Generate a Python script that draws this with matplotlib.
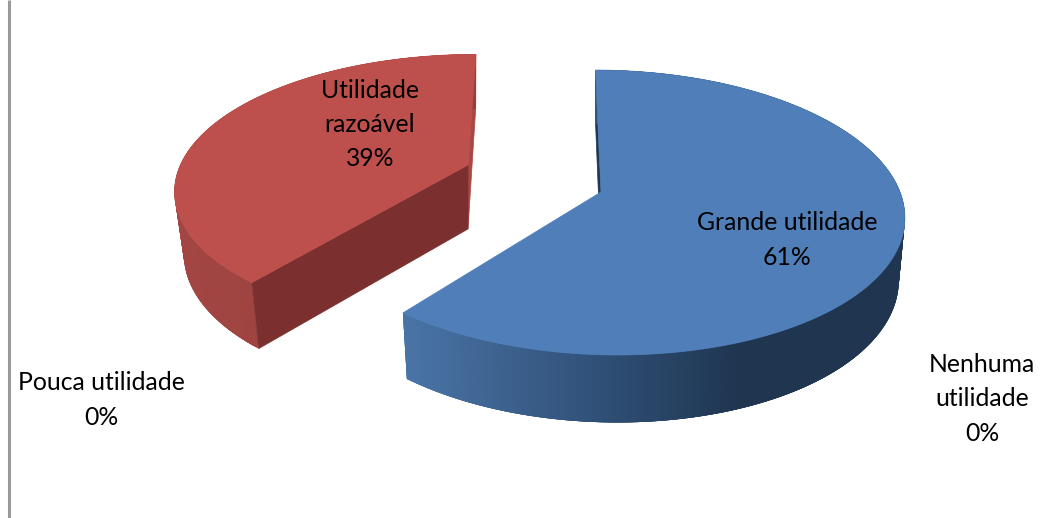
import numpy as np
import matplotlib
matplotlib.use("Agg")
import matplotlib.pyplot as plt
from matplotlib.collections import PolyCollection
from matplotlib.colors import LinearSegmentedColormap
from matplotlib.patches import Polygon

categories = ["Grande utilidade", "Utilidade\nrazoável", "Pouca utilidade", "Nenhuma\nutilidade"]
values = [61, 39, 0, 0]

label_xy = [(787, 240), (370, 124.5), (101, 400), (982, 399)]
# apex x, apex y, R, b, p, q, k, bottom scale
geometry = [
    (601, 192, 295, 139.5, 0.144, 4.0, 0.078, 0.98),
    (468, 165, 292, 131.0, 0.184, 4.4, -0.032, 0.968),
]
top_colors = ["#4f7eb9", "#bd504d"]
inner_colors = ["#1f3550", "#a84744"]
front_colors = ["#1f3550", "#7b302f"]
wall_maps = [
    LinearSegmentedColormap.from_list("b", [(0, "#4a74a6"), (0.4, "#2f4f76"), (0.68, "#1f3550"), (1, "#1f3550")]),
    LinearSegmentedColormap.from_list("r", [(0, "#a34643"), (1, "#973f3c")]),
]

plt.rcParams["font.family"] = ["Lato", "DejaVu Sans"]
fig = plt.figure(figsize=(10.51, 5.18), dpi=100)
ax = fig.add_axes([0, 0, 1, 1])
ax.set_xlim(0, 1051)
ax.set_ylim(518, 0)
ax.axis("off")

ax.plot([9.2, 9.2], [0, 518], color="#9a9a9a", lw=2.2, solid_capstyle="butt", zorder=1)


def rim(theta, g, bottom=False):
    ax0, ay0, R, b, p, q, k, s = g
    c = np.cos(theta)
    d = 1 + p * c
    dy = -b * c / d
    dx = R * np.sin(theta) / d + q + k * dy
    if bottom:
        return ax0 + s * dx, ay0 + dy + 61 - 6.5 * c
    return ax0 + dx, ay0 + dy


def apex(g, bottom=False):
    return (g[0], g[1] + 64) if bottom else (g[0], g[1])


edges = np.concatenate([[0], np.cumsum(values)]) / np.sum(values) * 2 * np.pi
z = 2
for i in [1, 0]:
    g = geometry[i]
    t = np.linspace(edges[i], edges[i + 1], 400)
    xt, yt = rim(t, g)
    xb, yb = rim(t, g, True)
    a_t, a_b = apex(g), apex(g, True)

    # inner wall at the radius that faces the viewer
    if i == 0:
        inner = [(xt[0], yt[0]), (xb[0], yb[0]), a_b, a_t]
    else:
        inner = [(xt[-1], yt[-1]), (xb[-1], yb[-1]), a_b, a_t]
    ax.add_patch(Polygon(inner, closed=True, fc=inner_colors[i], ec=inner_colors[i], lw=0.5, zorder=z))
    z += 1

    # outer wall: overlapping quads, so that no seams show between the shades
    n = len(t)
    stops = np.minimum(np.arange(n - 1) + 4, n - 1)
    quads = [[(xt[j], yt[j]), (xt[m], yt[m]), (xb[m], yb[m]), (xb[j], yb[j])]
             for j, m in zip(range(n - 1), stops)]
    mid = xt[:-1]
    shades = wall_maps[i]((mid - mid.min()) / (mid.max() - mid.min()))
    ax.add_collection(PolyCollection(quads, facecolors=shades, edgecolors="none", linewidths=0, zorder=z))
    z += 1

    # front wall along the other radius
    if i == 1:
        front = [a_t, (xt[0], yt[0]), (xb[0], yb[0]), a_b]
        ax.add_patch(Polygon(front, closed=True, fc=front_colors[i], ec=front_colors[i], lw=0.5, zorder=z))
        z += 1

    top = np.column_stack([np.r_[a_t[0], xt], np.r_[a_t[1], yt]])
    ax.add_patch(Polygon(top, closed=True, fc=top_colors[i], ec=top_colors[i], lw=0.5, zorder=z))
    z += 1

for name, value, (lx, ly) in zip(categories, values, label_xy):
    ax.text(lx, ly, f"{name}\n{value}%", ha="center", va="center", fontsize=17.8, color="black",
            linespacing=1.59, zorder=z)

fig.savefig("out.png", dpi=100, facecolor="white")
